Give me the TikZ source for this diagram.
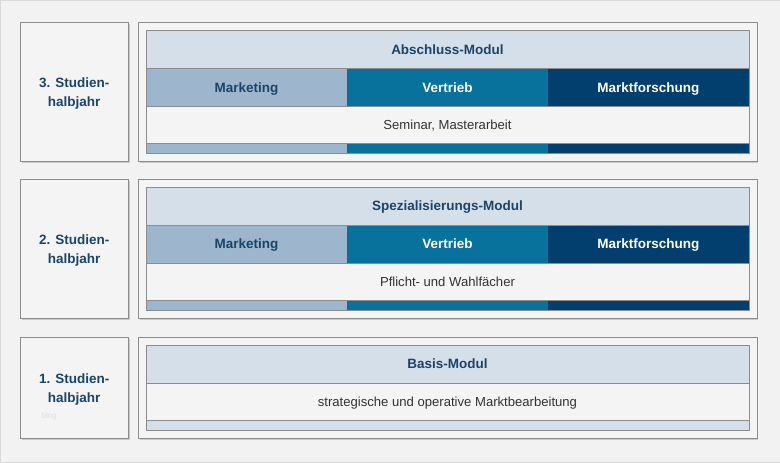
\documentclass[tikz,border=0pt]{standalone}
\usepackage{fontspec}
\setmainfont{Liberation Sans}
\usetikzlibrary{shadows}
\definecolor{hinter}{HTML}{F2F2F2}
\definecolor{rand}{HTML}{DADADA}
\definecolor{linie}{HTML}{8C8C8C}
\definecolor{kasten}{HTML}{F4F4F5}
\definecolor{kopffarbe}{HTML}{D5DFE9}
\definecolor{mkt}{HTML}{9DB6CE}
\definecolor{vtr}{HTML}{08729C}
\definecolor{mfo}{HTML}{033F6E}
\definecolor{navy}{HTML}{1B4468}
\tikzset{
  box/.style={anchor=north west,inner sep=0pt,outer sep=0pt},
  fett/.style={font=\bfseries\fontsize{13.5}{18.5}\selectfont},
  einzeilig/.style={text height=9.7pt,text depth=0pt},
  semester/.style={box,draw=linie,fill=kasten,minimum width=108pt,minimum height=#1,
    drop shadow={shadow xshift=1.5pt,shadow yshift=-2pt,opacity=.35}},
  semtext/.style={fett,align=center,text=navy,inner sep=0pt},
  modul/.style={box,draw=linie,fill=kasten,minimum width=619pt,minimum height=#1,
    drop shadow={shadow xshift=1.5pt,shadow yshift=-2pt,opacity=.35}},
  kopf/.style={box,fett,einzeilig,fill=kopffarbe,minimum width=603pt,minimum height=38pt,
    text=navy},
  fach/.style={box,fett,einzeilig,minimum width=201pt,minimum height=38pt,text=white},
  inhalt/.style={box,fill=kasten,minimum width=603pt,minimum height=37pt,
    text height=9.4pt,text depth=0pt,text=black!80,font=\fontsize{13.1}{15}\selectfont},
  leiste/.style={box,minimum width=#1,minimum height=10pt},
  trenn/.style={draw=linie,line width=.6pt}
}
\begin{document}
\begin{tikzpicture}[x=1pt,y=-1pt]
  \useasboundingbox[fill=hinter,draw=rand] (0,0) rectangle (780,462);

  % 3. Studienhalbjahr
  \node[semester=139pt] (s3) at (20,22) {};
  \node[semtext] (t3) at ([yshift=-2pt]s3.center) {3. Studien-\\halbjahr};
  \node[modul=139pt] (m3) at (138,22) {};
  \node[kopf] (k3) at (146,30) {Abschluss-Modul};
  \node[fach,fill=mkt,text=navy] (a3) at (146,68) {Marketing};
  \node[fach,fill=vtr] (b3) at (347,68) {Vertrieb};
  \node[fach,fill=mfo] (c3) at (548,68) {Marktforschung};
  \node[inhalt] (i3) at (146,106) {Seminar, Masterarbeit};
  \node[leiste=201pt,fill=mkt] (la3) at (146,143) {};
  \node[leiste=201pt,fill=vtr] (lb3) at (347,143) {};
  \node[leiste=201pt,fill=mfo] (lc3) at (548,143) {};
  \draw[trenn] (k3.south west) -- (k3.south east);
  \draw[trenn] (i3.north west) -- (i3.north east);
  \draw[trenn] (i3.south west) -- (i3.south east);
  \draw[trenn] (k3.north west) rectangle (lc3.south east);

  % 2. Studienhalbjahr
  \node[semester=139pt] (s2) at (20,179) {};
  \node[semtext] (t2) at ([yshift=-2pt]s2.center) {2. Studien-\\halbjahr};
  \node[modul=139pt] (m2) at (138,179) {};
  \node[kopf] (k2) at (146,187) {Spezialisierungs-Modul};
  \node[fach,fill=mkt,text=navy] (a2) at (146,225) {Marketing};
  \node[fach,fill=vtr] (b2) at (347,225) {Vertrieb};
  \node[fach,fill=mfo] (c2) at (548,225) {Marktforschung};
  \node[inhalt] (i2) at (146,263) {Pflicht- und Wahlfächer};
  \node[leiste=201pt,fill=mkt] (la2) at (146,300) {};
  \node[leiste=201pt,fill=vtr] (lb2) at (347,300) {};
  \node[leiste=201pt,fill=mfo] (lc2) at (548,300) {};
  \draw[trenn] (k2.south west) -- (k2.south east);
  \draw[trenn] (i2.north west) -- (i2.north east);
  \draw[trenn] (i2.south west) -- (i2.south east);
  \draw[trenn] (k2.north west) rectangle (lc2.south east);

  % 1. Studienhalbjahr
  \node[semester=101pt] (s1) at (20,337) {};
  \node[semtext] (t1) at ([yshift=-2pt]s1.center) {1. Studien-\\halbjahr};
  \node[modul=101pt] (m1) at (138,337) {};
  \node[kopf] (k1) at (146,345) {Basis-Modul};
  \node[inhalt] (i1) at (146,383) {strategische und operative Marktbearbeitung};
  \node[leiste=603pt,fill=kopffarbe] (l1) at (146,420) {};
  \draw[trenn] (k1.south west) -- (k1.south east);
  \draw[trenn] (i1.south west) -- (i1.south east);
  \draw[trenn] (k1.north west) rectangle (l1.south east);

  \node[text=black!13,font=\fontsize{8}{9}\selectfont] (wm) at (49,416) {blog};
\end{tikzpicture}
\end{document}
